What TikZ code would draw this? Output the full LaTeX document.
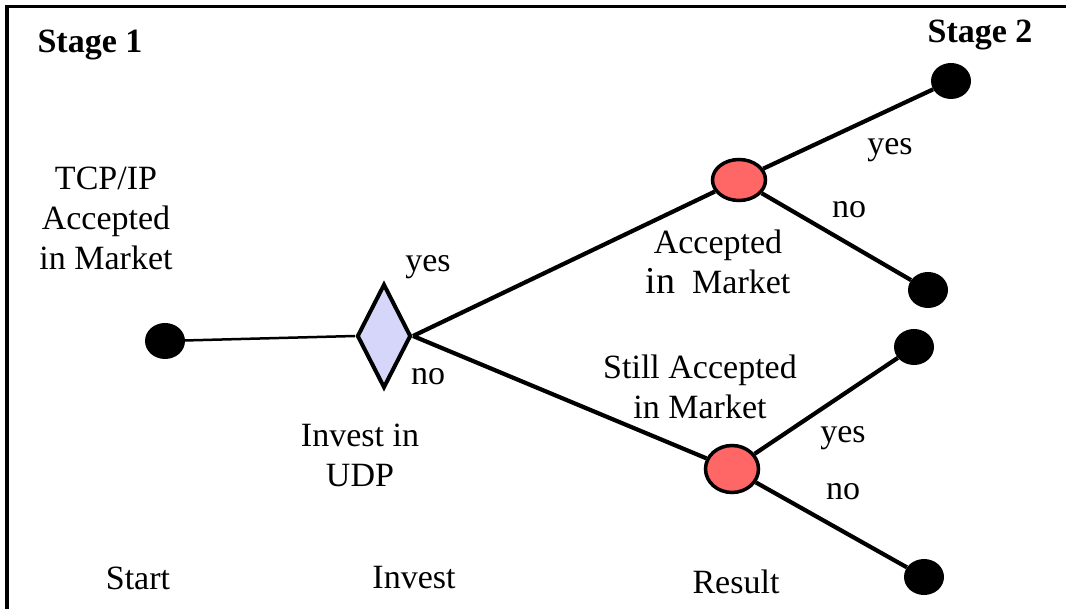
\documentclass[tikz,border=0pt]{standalone}
\usepackage{fontspec}
\setmainfont{Liberation Serif}
\usepackage{xcolor}
\usepackage{tikz}
\usetikzlibrary{shapes.geometric}

\definecolor{choicefill}{RGB}{214,214,250}
\definecolor{chancefill}{RGB}{255,102,102}

\tikzset{
	endpoint/.style={ellipse, fill=black, inner sep=0, minimum width=40, minimum height=36},
	choice/.style={diamond, draw=black, line width=4, fill=choicefill, inner sep=0, minimum width=54, minimum height=104},
	chance/.style={ellipse, draw=black, line width=3.5, fill=chancefill, inner sep=0, minimum width=53},
	branch/.style={line width=4.2},
	lbl/.style={align=center, inner sep=0},
}

\begin{document}
\begin{tikzpicture}[x=1pt, y=-1pt, font=\fontsize{34}{40}\selectfont]
			\useasboundingbox (0, 0) rectangle (1066, 609);
			\draw[line width=3.5] (7, 609) -- (7, 6.5) -- (1066, 6.5);
			\node[lbl, font=\fontsize{34}{40}\selectfont\bfseries] (stageA) at (90, 45) {Stage 1};
			\node[lbl, font=\fontsize{34}{40}\selectfont\bfseries] (stageB) at (980, 35) {Stage 2};
			\node[endpoint] (start) at (165, 341) {};
			\node[choice] (invest) at (384, 336) {};
			\node[chance, minimum height=41] (acc) at (739, 180) {};
			\node[chance, minimum height=47] (still) at (732, 469) {};
			\node[endpoint] (accyes) at (951, 81) {};
			\node[endpoint] (accno) at (928, 290) {};
			\node[endpoint] (stillyes) at (914, 347) {};
			\node[endpoint] (stillno) at (924, 577) {};
			\draw[line width=2.5] (start) -- (invest.west);
			\draw[branch] (invest.east) -- (acc);
			\draw[branch] (invest.east) -- (still);
			\draw[branch] (acc) -- (accyes);
			\draw[branch] (acc) -- (accno);
			\draw[branch] (still) -- (stillyes);
			\draw[branch] (still) -- (stillno);
			\node[lbl] (tcp) at (106, 218) {TCP/IP\\Accepted\\in Market};
			\node[lbl] (yesA) at (428, 267) {yes};
			\node[lbl] (noA) at (428, 377) {no};
			\node[lbl] (udp) at (360, 455) {Invest in\\UDP};
			\node[lbl] (acctxt) at (718, 262) {Accepted\\{\fontsize{38}{40}\selectfont in}\ \ Market};
			\node[lbl] (yesB) at (890, 150) {yes};
			\node[lbl] (noB) at (849, 210) {no};
			\node[lbl] (stilltxt) at (700, 387) {Still Accepted\\in Market};
			\node[lbl] (yesC) at (843, 438) {yes};
			\node[lbl] (noC) at (843, 492) {no};
			\node[lbl] (colA) at (138, 578) {Start};
			\node[lbl] (colB) at (414, 578) {Invest};
			\node[lbl] (colC) at (736, 582) {Result};
		\end{tikzpicture}
\end{document}
